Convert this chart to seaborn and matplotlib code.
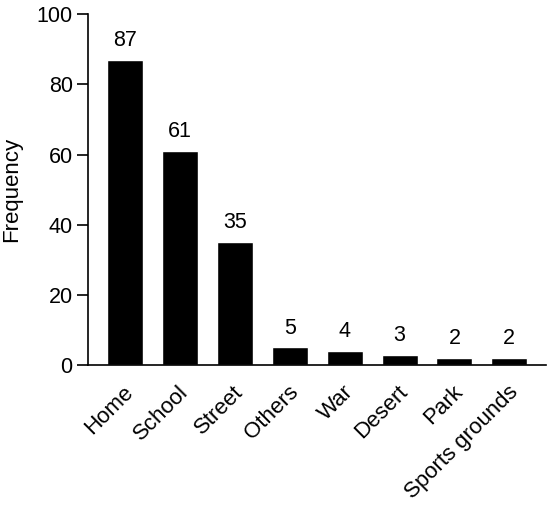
import matplotlib
matplotlib.use('Agg')
import matplotlib.pyplot as plt
import matplotlib.transforms as mtransforms
import seaborn as sns
import pandas as pd

# Data
places = ['Home', 'School', 'Street', 'Others', 'War', 'Desert', 'Park', 'Sports grounds']
frequency = [87, 61, 35, 5, 4, 3, 2, 2]

df = pd.DataFrame({'place': places, 'frequency': frequency})

sns.set_style('white')
plt.rcParams['font.family'] = ['Liberation Sans', 'DejaVu Sans']
plt.rcParams['text.color'] = 'black'
plt.rcParams['axes.labelcolor'] = 'black'
plt.rcParams['xtick.color'] = 'black'
plt.rcParams['ytick.color'] = 'black'

fig = plt.figure(figsize=(5.5, 5.07), dpi=100)
ax = fig.add_axes([0.16, 0.280, 0.833, 0.692])

sns.barplot(data=df, x='place', y='frequency', color='black', width=0.656,
            saturation=1, ax=ax)

for i, v in enumerate(frequency):
    ax.text(i, v + 2.5, str(v), ha='center', va='bottom', fontsize=15.5)

ax.set_ylim(0, 100)
ax.set_xlim(-0.674, 7.67)
ax.set_yticks([0, 20, 40, 60, 80, 100])
ax.tick_params(axis='y', length=8, width=1.2, labelsize=15.5, pad=3, left=True)
ax.tick_params(axis='x', length=0, labelsize=16, pad=12)
shift = mtransforms.ScaledTranslation(-1.5 / 72, 0, fig.dpi_scale_trans)
for lab in ax.get_xticklabels():
    lab.set_rotation(45)
    lab.set_ha('right')
    lab.set_rotation_mode('anchor')
    lab.set_transform(lab.get_transform() + shift)

ax.set_xlabel('')
ax.set_ylabel('Frequency', fontsize=16)
ax.yaxis.set_label_coords(-0.144, 0.5)

sns.despine(ax=ax)
for s in ['left', 'bottom']:
    ax.spines[s].set_linewidth(1.2)
    ax.spines[s].set_color('black')

fig.savefig('out.png', dpi=100)
